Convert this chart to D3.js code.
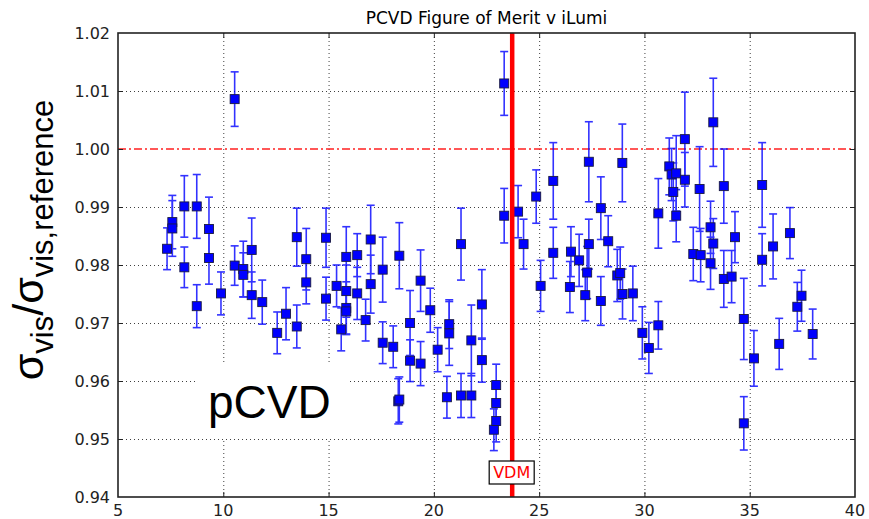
<!DOCTYPE html>
<html>
<head>
<meta charset="utf-8">
<script src="https://cdn.jsdelivr.net/npm/d3@7"></script>
<style>
  body { margin: 0; background: #fff; }
  svg { display: block; }
</style>
</head>
<body>
<div class="canvas"></div>
<script>
// values
const iLumi = [7.33, 7.58, 7.58, 8.15, 8.15, 8.74, 8.74, 9.32, 9.32, 9.89,
  10.54, 10.54, 10.95, 10.95, 11.35, 11.35, 11.85, 12.56, 12.98, 13.49,
  13.49, 13.94, 13.94, 14.88, 14.88, 15.38, 15.6, 15.84, 15.84, 15.84,
  15.84, 16.36, 16.36, 16.76, 17.0, 17.0, 17.57, 17.57, 18.07, 18.31,
  18.36, 18.36, 18.87, 18.87, 19.37, 19.37, 19.83, 20.18, 20.62, 20.73,
  20.73, 21.29, 21.29, 21.78, 21.78, 22.28, 22.28, 22.85, 22.96, 22.96,
  22.96, 23.34, 23.34, 24.0, 24.26, 24.86, 25.07, 25.67, 25.67, 26.46,
  26.51, 26.9, 27.19, 27.28, 27.36, 27.36, 27.93, 27.93, 28.28, 28.71,
  28.85, 28.95, 28.96, 29.45, 29.9, 30.21, 30.66, 30.66, 31.18, 31.29,
  31.37, 31.51, 31.51, 31.92, 31.92, 32.32, 32.62, 32.67, 33.14, 33.14,
  33.27, 33.27, 33.77, 33.77, 34.14, 34.3, 34.72, 34.72, 35.2, 35.59,
  35.59, 36.11, 36.4, 36.91, 37.26, 37.46, 37.99];
const fom = [0.9828, 0.9874, 0.9863, 0.9901, 0.9796, 0.9901, 0.9729, 0.9862, 0.9812, 0.9751,
  1.0086, 0.9799, 0.9793, 0.9783, 0.9826, 0.9748, 0.9736, 0.9683, 0.9716, 0.9848,
  0.9694, 0.9810, 0.9770, 0.9847, 0.9742, 0.9764, 0.9689, 0.9814, 0.9755, 0.9726,
  0.9720, 0.9817, 0.9751, 0.9705, 0.9844, 0.9767, 0.9792, 0.9666, 0.9659, 0.9565,
  0.9568, 0.9816, 0.9700, 0.9635, 0.9773, 0.9630, 0.9722, 0.9654, 0.9572, 0.9698,
  0.9682, 0.9836, 0.9575, 0.9670, 0.9575, 0.9732, 0.9636, 0.9516, 0.9593, 0.9562,
  0.9531, 1.0113, 0.9885, 0.9892, 0.9836, 0.9918, 0.9764, 0.9945, 0.9821, 0.9762,
  0.9823, 0.9808, 0.9748, 0.9787, 0.9978, 0.9836, 0.9898, 0.9738, 0.9841, 0.9782,
  0.9786, 0.9976, 0.9750, 0.9751, 0.9683, 0.9657, 0.9889, 0.9696, 0.9970, 0.9956,
  0.9926, 0.9958, 0.9885, 1.0017, 0.9947, 0.9819, 0.9931, 0.9817, 0.9865, 0.9803,
  1.0046, 0.9837, 0.9936, 0.9776, 0.9780, 0.9848, 0.9707, 0.9527, 0.9639, 0.9938,
  0.9809, 0.9832, 0.9664, 0.9855, 0.9728, 0.9747, 0.9681];
const fomErr = [0.0036, 0.0046, 0.0048, 0.0053, 0.0035, 0.0055, 0.0037, 0.0055, 0.0045, 0.0037,
  0.0047, 0.0034, 0.0048, 0.0038, 0.0055, 0.0040, 0.0038, 0.0036, 0.0045, 0.0050,
  0.0037, 0.0053, 0.0037, 0.0051, 0.0037, 0.0036, 0.0037, 0.0052, 0.0045, 0.0045,
  0.0040, 0.0037, 0.0045, 0.0036, 0.0059, 0.0050, 0.0056, 0.0036, 0.0036, 0.0039,
  0.0039, 0.0057, 0.0056, 0.0036, 0.0053, 0.0038, 0.0038, 0.0038, 0.0036, 0.0042,
  0.0055, 0.0062, 0.0038, 0.0061, 0.0038, 0.0060, 0.0038, 0.0036, 0.0036, 0.0036,
  0.0036, 0.0055, 0.0047, 0.0045, 0.0043, 0.0046, 0.0044, 0.0066, 0.0044, 0.0044,
  0.0043, 0.0045, 0.0044, 0.0045, 0.0069, 0.0043, 0.0054, 0.0042, 0.0044, 0.0045,
  0.0045, 0.0067, 0.0043, 0.0047, 0.0045, 0.0044, 0.0060, 0.0041, 0.0049, 0.0045,
  0.0050, 0.0065, 0.0045, 0.0081, 0.0047, 0.0046, 0.0073, 0.0046, 0.0045, 0.0045,
  0.0076, 0.0043, 0.0064, 0.0049, 0.0045, 0.0044, 0.0070, 0.0046, 0.0048, 0.0073,
  0.0045, 0.0056, 0.0044, 0.0044, 0.0042, 0.0044, 0.0043];

const xTicks = [5, 10, 15, 20, 25, 30, 35, 40];
const yTicks = [0.94, 0.95, 0.96, 0.97, 0.98, 0.99, 1.00, 1.01, 1.02];
const refLevel = 1.00;
const vdmLumi = 23.72;

const points = iLumi.map((x, i) => ({x: x, y: fom[i], e: fomErr[i]}));

const dims = {width: 869, height: 519};
const plot = {left: 118, right: 855, top: 33, bottom: 497};

const svg = d3.select(".canvas")
    .append("svg")
    .attr("width", dims.width)
    .attr("height", dims.height);

const x = d3.scaleLinear().domain([5, 40]).range([plot.left, plot.right]);
const y = d3.scaleLinear().domain([0.94, 1.02]).range([plot.bottom, plot.top]);

// dotted grid (the 1.00 row is taken by the red reference line)
const grid = svg.append("g")
    .attr("stroke", "#000")
    .attr("stroke-width", 1)
    .attr("stroke-dasharray", "1,3")
    .attr("opacity", 0.75);
grid.selectAll("line.gx")
    .data(xTicks.slice(1, -1))
    .enter().append("line")
    .attr("x1", d => x(d) + 0.5).attr("x2", d => x(d) + 0.5)
    .attr("y1", plot.top).attr("y2", plot.bottom);
grid.selectAll("line.gy")
    .data(yTicks.slice(1, -1).filter(d => d !== refLevel))
    .enter().append("line")
    .attr("x1", plot.left).attr("x2", plot.right)
    .attr("y1", d => y(d) + 0.5).attr("y2", d => y(d) + 0.5);

// reference line at 1.00
svg.append("line")
    .attr("x1", plot.left).attr("x2", plot.right)
    .attr("y1", y(refLevel)).attr("y2", y(refLevel))
    .attr("stroke", "#ff2020")
    .attr("stroke-width", 1.4)
    .attr("stroke-dasharray", "8,3,2,3");

// pCVD label box (white, hides the grid under it)
svg.append("rect")
    .attr("x", 196).attr("y", 363)
    .attr("width", 151).attr("height", 75)
    .attr("fill", "#fff");
svg.append("text")
    .attr("x", 208).attr("y", 418)
    .attr("font-family", "'Liberation Sans', Arial, sans-serif")
    .attr("font-size", 46)
    .attr("fill", "#000")
    .text("pCVD");

// error bars
const bars = svg.append("g")
    .attr("stroke", "#0000ff")
    .attr("stroke-width", 1.6)
    .attr("opacity", 0.8);
bars.selectAll("line.bar")
    .data(points)
    .enter().append("line")
    .attr("x1", d => x(d.x)).attr("x2", d => x(d.x))
    .attr("y1", d => y(d.y + d.e)).attr("y2", d => y(d.y - d.e));
bars.selectAll("line.capTop")
    .data(points)
    .enter().append("line")
    .attr("x1", d => x(d.x) - 4).attr("x2", d => x(d.x) + 4)
    .attr("y1", d => y(d.y + d.e)).attr("y2", d => y(d.y + d.e));
bars.selectAll("line.capBot")
    .data(points)
    .enter().append("line")
    .attr("x1", d => x(d.x) - 4).attr("x2", d => x(d.x) + 4)
    .attr("y1", d => y(d.y - d.e)).attr("y2", d => y(d.y - d.e));

// square markers
const ms = 9;
svg.append("g").selectAll("rect")
    .data(points)
    .enter().append("rect")
    .attr("x", d => x(d.x) - ms / 2)
    .attr("y", d => y(d.y) - ms / 2)
    .attr("width", ms).attr("height", ms)
    .attr("fill", "#0000ff")
    .attr("stroke", "#1a1a40")
    .attr("stroke-width", 0.9);

// VDM marker line
svg.append("line")
    .attr("x1", x(vdmLumi)).attr("x2", x(vdmLumi))
    .attr("y1", plot.top).attr("y2", plot.bottom)
    .attr("stroke", "#ff0000")
    .attr("stroke-width", 4.5);
svg.append("rect")
    .attr("x", x(vdmLumi) - 23).attr("y", 461)
    .attr("width", 45).attr("height", 23)
    .attr("fill", "#fff")
    .attr("stroke", "#000")
    .attr("stroke-width", 1.2);
svg.append("text")
    .attr("x", x(vdmLumi) - 0.5).attr("y", 478)
    .attr("text-anchor", "middle")
    .attr("font-family", "'DejaVu Sans', sans-serif")
    .attr("font-size", 16)
    .attr("fill", "#ff0000")
    .text("VDM");

// frame and inward ticks on all four sides
const axisFont = "'DejaVu Sans', sans-serif";
const tickLen = 5;
const frame = svg.append("g").attr("stroke", "#222").attr("stroke-width", 1);
xTicks.slice(1, -1).forEach(t => {
    frame.append("line").attr("x1", x(t) + 0.5).attr("x2", x(t) + 0.5)
        .attr("y1", plot.bottom).attr("y2", plot.bottom - tickLen);
    frame.append("line").attr("x1", x(t) + 0.5).attr("x2", x(t) + 0.5)
        .attr("y1", plot.top).attr("y2", plot.top + tickLen);
});
yTicks.slice(1, -1).forEach(t => {
    frame.append("line").attr("y1", y(t) + 0.5).attr("y2", y(t) + 0.5)
        .attr("x1", plot.left).attr("x2", plot.left + tickLen);
    frame.append("line").attr("y1", y(t) + 0.5).attr("y2", y(t) + 0.5)
        .attr("x1", plot.right).attr("x2", plot.right - tickLen);
});
svg.append("rect")
    .attr("x", plot.left).attr("y", plot.top)
    .attr("width", plot.right - plot.left)
    .attr("height", plot.bottom - plot.top)
    .attr("fill", "none")
    .attr("stroke", "#222")
    .attr("stroke-width", 1.6);

// tick labels
svg.append("g").selectAll("text")
    .data(xTicks)
    .enter().append("text")
    .attr("x", d => x(d))
    .attr("y", 516)
    .attr("text-anchor", "middle")
    .attr("font-family", axisFont)
    .attr("font-size", 16)
    .attr("fill", "#222")
    .text(d => d);
svg.append("g").selectAll("text")
    .data(yTicks)
    .enter().append("text")
    .attr("x", 110)
    .attr("y", d => y(d))
    .attr("dy", "0.36em")
    .attr("text-anchor", "end")
    .attr("font-family", axisFont)
    .attr("font-size", 16)
    .attr("fill", "#222")
    .text(d => d.toFixed(2));

// title
svg.append("text")
    .attr("x", (plot.left + plot.right) / 2)
    .attr("y", 24)
    .attr("text-anchor", "middle")
    .attr("font-family", axisFont)
    .attr("font-size", 17)
    .attr("fill", "#000")
    .text("PCVD Figure of Merit v iLumi");

// y label: sigma_vis / sigma_vis,reference
const ylab = svg.append("text")
    .attr("transform", "translate(43,240) rotate(-90)")
    .attr("text-anchor", "middle")
    .attr("font-family", "'Liberation Sans', Arial, sans-serif")
    .attr("font-size", 43)
    .attr("fill", "#000");
ylab.append("tspan").text("σ");
ylab.append("tspan").attr("font-size", 31).attr("dy", 10).text("vis");
ylab.append("tspan").attr("dy", -10).text("/σ");
ylab.append("tspan").attr("font-size", 31).attr("dy", 10).text("vis,reference");
</script>
</body>
</html>
